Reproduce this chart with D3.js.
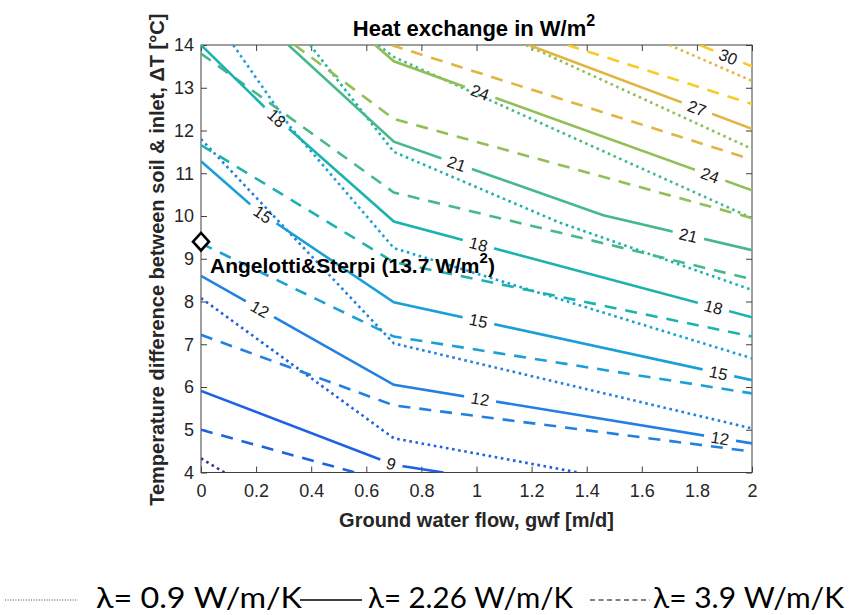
<!DOCTYPE html>
<html><head><meta charset="utf-8">
<script src="https://cdn.jsdelivr.net/npm/d3@7/dist/d3.min.js"></script>
<style>body{margin:0;background:#fff} svg{display:block}</style>
</head><body>
<svg id="chart" width="849" height="615"></svg>
<script>
// ---------------- data ----------------
const levels = [6, 9, 12, 15, 18, 21, 24, 27, 30];
const xTicks = [0, 0.2, 0.4, 0.6, 0.8, 1, 1.2, 1.4, 1.6, 1.8, 2];
const yTicks = [4, 5, 6, 7, 8, 9, 10, 11, 12, 13, 14];

// contour lines [level, [[gwf, dT], ...]] for each conductivity
const lambda090 = [
  [6,  [[0,4.33],[0.085,4.0]]],
  [9,  [[0,8.08],[0.7,4.8],[1.37,4.0]]],
  [12, [[0,11.8],[0.7,7.02],[2,5.03]]],
  [15, [[0.117,14],[0.323,12.09],[0.7,9.25],[2,6.67]]],
  [18, [[0.396,14],[0.7,11.5],[1.3,9.85],[2,8.27]]],
  [21, [[0.644,14],[0.7,13.72],[2,9.95]]],
  [24, [[1.18,14],[2,11.57]]],
  [27, [[1.70,14],[2,13.16]]]
];
const lambda226 = [
  [9,  [[0,5.91],[0.7,4.18],[0.88,4.0]]],
  [12, [[0,8.6],[0.7,6.05],[2,4.68]]],
  [15, [[0,11.28],[0.2,10.15],[0.7,7.98],[2,6.16]]],
  [18, [[0,14.0],[0.23,12.55],[0.7,9.87],[2,7.63]]],
  [21, [[0.317,14],[0.7,11.74],[1.46,10.02],[2,9.2]]],
  [24, [[0.632,14],[0.7,13.62],[2,10.6]]],
  [27, [[1.19,14],[2,12.04]]],
  [30, [[1.81,14],[2,13.5]]]
];
const lambda390 = [
  [9,  [[0,5.0],[0.56,4.0]]],
  [12, [[0,7.22],[0.7,5.57],[2,4.49]]],
  [15, [[0,9.36],[0.7,7.18],[2,5.85]]],
  [18, [[0,11.66],[0.7,8.92],[2,7.18]]],
  [21, [[0,13.8],[0.7,10.55],[2,8.52]]],
  [24, [[0.34,14],[0.7,12.27],[2,9.95]]],
  [27, [[0.69,14],[2,11.32]]],
  [30, [[1.33,14],[2,12.62]]]
];
// contour labels on the lambda=2.26 lines: [level, gwf position]
const labels226 = [
  [9,0.69],[12,0.214],[12,1.013],[12,1.884],
  [15,0.225],[15,1.007],[15,1.878],
  [18,0.275],[18,1.007],[18,1.86],
  [21,0.928],[21,1.769],[24,1.013],[24,1.848],
  [27,1.8],[30,1.914]
];
const refPoint = [0, 9.4];
const refText = ["Angelotti&Sterpi (13.7 W/m", "2", ")"];
const titleText = ["Heat exchange in W/m", "2"];
const xLabel = "Ground water flow, gwf [m/d]";
const yLabel = "Temperature difference between soil & inlet, \u0394T [\u00B0C]";
const legendLabels = ["\u03BB= 0.9 W/m/K", "\u03BB= 2.26 W/m/K", "\u03BB= 3.9 W/m/K"];

// ---------------- styles ----------------
const levelColors = ['#3b2f9e','#1e62e2','#2280e0','#1aa0d6','#1cb3ae','#45b98a','#91be55','#e2b441','#f8cc24'];
const color = d3.scaleOrdinal(levels, levelColors);
const W = 849, H = 615;
const mL = 201, mR = 752, mT = 45, mB = 472.5;
const axisColor = '#404040';
const fontMain = 'Liberation Sans, Arial, Helvetica, sans-serif';

const svg = d3.select('#chart');
const x = d3.scaleLinear([0, 2], [mL, mR]);
const y = d3.scaleLinear([4, 14], [mB, mT]);
const line = d3.line().x(d => x(d[0])).y(d => y(d[1]));

const defs = svg.append('defs');
defs.append('clipPath').attr('id', 'plotClip')
  .append('rect').attr('x', mL).attr('y', mT).attr('width', mR - mL).attr('height', mB - mT);

// axes
const gx = svg.append('g').attr('transform', `translate(0,${mB})`)
  .call(d3.axisBottom(x).tickValues(xTicks).tickSize(-6).tickPadding(12).tickFormat(d => String(d)));
const gy = svg.append('g').attr('transform', `translate(${mL},0)`)
  .call(d3.axisLeft(y).tickValues(yTicks).tickSize(-6).tickPadding(7).tickFormat(d => String(d)));
const gxt = svg.append('g').attr('transform', `translate(0,${mT})`)
  .call(d3.axisTop(x).tickValues(xTicks).tickSize(-6).tickFormat(''));
const gyr = svg.append('g').attr('transform', `translate(${mR},0)`)
  .call(d3.axisRight(y).tickValues(yTicks).tickSize(-6).tickFormat(''));
[gx, gy, gxt, gyr].forEach(g => {
  g.select('.domain').remove();
  g.selectAll('line').attr('stroke', axisColor);
  g.selectAll('text').attr('fill', '#262626').style('font-family', fontMain).style('font-size', '18px');
});
svg.append('rect').attr('x', mL).attr('y', mT).attr('width', mR - mL).attr('height', mB - mT)
  .attr('fill', 'none').attr('stroke', axisColor).attr('stroke-width', 1);

// label geometry on the solid lines
function yAt(pts, xv) {
  for (let i = 0; i < pts.length - 1; i++) {
    const a = pts[i], b = pts[i + 1];
    if (xv >= a[0] && xv <= b[0]) return a[1] + (b[1] - a[1]) * (xv - a[0]) / (b[0] - a[0]);
  }
  return pts[pts.length - 1][1];
}
const labelInfo = labels226.map(([lev, xv]) => {
  const pts = lambda226.find(c => c[0] === lev)[1];
  const x0 = Math.max(pts[0][0], xv - 0.03), x1 = Math.min(pts[pts.length - 1][0], xv + 0.03);
  const ang = Math.atan2(y(yAt(pts, x1)) - y(yAt(pts, x0)), x(x1) - x(x0)) * 180 / Math.PI;
  return {lev, px: x(xv), py: y(yAt(pts, xv)), ang};
});

const plot = svg.append('g').attr('clip-path', 'url(#plotClip)');

// dotted: lambda 0.9
plot.append('g').selectAll('path').data(lambda090).join('path')
  .attr('d', d => line(d[1])).attr('fill', 'none').attr('stroke', d => color(d[0]))
  .attr('stroke-width', 2.6).attr('stroke-dasharray', '2.6,3.6');
// dashed: lambda 3.9
plot.append('g').selectAll('path').data(lambda390).join('path')
  .attr('d', d => line(d[1])).attr('fill', 'none').attr('stroke', d => color(d[0]))
  .attr('stroke-width', 2.6).attr('stroke-dasharray', '12,9');

// labels first (to measure), then mask for gaps
const labG = svg.append('g');
const labs = labG.selectAll('text').data(labelInfo).join('text')
  .attr('transform', d => `translate(${d.px},${d.py}) rotate(${d.ang})`)
  .attr('text-anchor', 'middle').attr('dy', '0.36em')
  .style('font-family', fontMain).style('font-size', '16.5px').attr('fill', '#1a1a1a')
  .text(d => d.lev);
const mask = defs.append('mask').attr('id', 'gapMask').attr('maskUnits', 'userSpaceOnUse')
  .attr('x', 0).attr('y', 0).attr('width', W).attr('height', H);
mask.append('rect').attr('x', 0).attr('y', 0).attr('width', W).attr('height', H).attr('fill', '#fff');
labs.each(function(d) {
  const w = this.getComputedTextLength() + 14;
  mask.append('rect').attr('x', -w / 2).attr('y', -10).attr('width', w).attr('height', 20)
    .attr('fill', '#000').attr('transform', `translate(${d.px},${d.py}) rotate(${d.ang})`);
});
// solid: lambda 2.26
plot.append('g').attr('mask', 'url(#gapMask)').selectAll('path').data(lambda226).join('path')
  .attr('d', d => line(d[1])).attr('fill', 'none').attr('stroke', d => color(d[0]))
  .attr('stroke-width', 2.6);
labG.raise();

// reference point
const diamond = {draw(ctx, size) { const r = Math.sqrt(size) / 2; ctx.moveTo(0, -r * 1.1); ctx.lineTo(r, 0); ctx.lineTo(0, r * 1.1); ctx.lineTo(-r, 0); ctx.closePath(); }};
svg.append('path').attr('d', d3.symbol(diamond, 256)())
  .attr('transform', `translate(${x(refPoint[0])},${y(refPoint[1])})`)
  .attr('fill', '#fff').attr('stroke', '#000').attr('stroke-width', 2.6);
const rt = svg.append('text').attr('x', x(refPoint[0]) + 9).attr('y', y(refPoint[1]) + 31)
  .style('font-family', fontMain).style('font-size', '21px').style('font-weight', 'bold').attr('fill', '#000');
rt.append('tspan').text(refText[0]);
rt.append('tspan').attr('dy', -10).style('font-size', '15px').text(refText[1]);
rt.append('tspan').attr('dy', 10).text(refText[2]);

// title and axis labels
const tt = svg.append('text').attr('x', 474).attr('y', 36).attr('text-anchor', 'middle')
  .style('font-family', fontMain).style('font-size', '22px').style('font-weight', 'bold').attr('fill', '#000');
tt.append('tspan').text(titleText[0]);
tt.append('tspan').attr('dy', -10).style('font-size', '16px').text(titleText[1]);
svg.append('text').attr('x', (mL + mR) / 2).attr('y', 527).attr('text-anchor', 'middle')
  .style('font-family', fontMain).style('font-size', '20px').style('font-weight', 'bold').attr('fill', '#262626')
  .text(xLabel);
svg.append('text').attr('transform', `translate(164,${(mT + mB) / 2 + 1}) rotate(-90)`).attr('text-anchor', 'middle')
  .style('font-family', fontMain).style('font-size', '20px').style('font-weight', 'bold').attr('fill', '#262626')
  .text(yLabel);

// legend
const leg = svg.append('g');
const legItems = [
  {x1: 5, x2: 78, dash: '1,1.6', w: 1, c: '#444', tx: 96, tl: 206},
  {x1: 300, x2: 362, dash: null, w: 1.4, c: '#000', tx: 368, tl: 205},
  {x1: 590, x2: 650, dash: '5,3.5', w: 1.2, c: '#000', tx: 653, tl: 191}
];
legItems.forEach((it, i) => {
  leg.append('line').attr('x1', it.x1).attr('x2', it.x2).attr('y1', 600).attr('y2', 600)
    .attr('stroke', it.c).attr('stroke-width', it.w).attr('stroke-dasharray', it.dash);
  leg.append('text').attr('x', it.tx).attr('y', 608).attr('textLength', it.tl).attr('lengthAdjust', 'spacingAndGlyphs')
    .style('font-family', 'Lato, "Open Sans", sans-serif').style('font-size', '29px').attr('fill', '#000')
    .text(legendLabels[i]);
});
</script>
</body></html>
